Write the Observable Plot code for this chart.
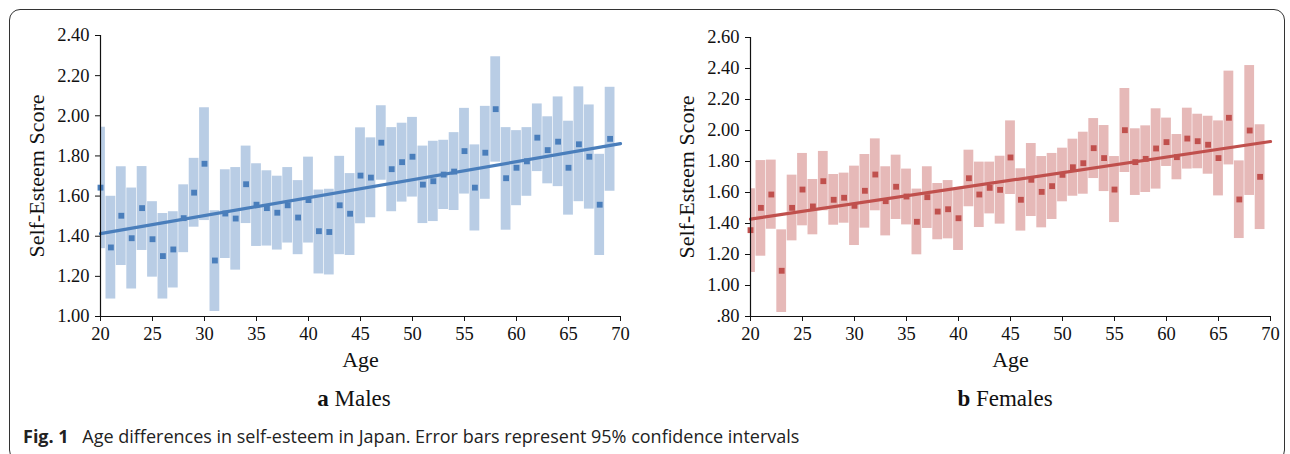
<!DOCTYPE html>
<html>
<head>
<meta charset="utf-8">
<script src="https://cdn.jsdelivr.net/npm/d3@7"></script>
<script src="https://cdn.jsdelivr.net/npm/@observablehq/plot@0.6"></script>
<style>
  html, body { margin: 0; padding: 0; background: #fff; }
  #fig { position: relative; width: 1290px; height: 454px; overflow: hidden; background: #fff; }
  #frame { position: absolute; left: 9px; top: 9px; width: 1276px; height: 452px; border: 1.2px solid #333; border-radius: 11px; box-sizing: border-box; }
  .panel { position: absolute; top: 0; }
  .ptitle { position: absolute; top: 386px; font-family: "Liberation Serif", serif; font-size: 23px; color: #111; white-space: nowrap; transform: translateX(-50%); }
  .ptitle b { font-weight: bold; }
  #caption { position: absolute; left: 23px; top: 424px; font-family: "Open Sans", sans-serif; font-size: 18px; color: #222; white-space: nowrap; }
  #caption b { font-weight: 700; margin-right: 9px; }
</style>
</head>
<body>
<div id="fig">
  <div id="frame"></div>
  <div id="left" class="panel" style="left:0px"></div>
  <div id="right" class="panel" style="left:650px"></div>
  <div class="ptitle" style="left:354px"><b>a</b> Males</div>
  <div class="ptitle" style="left:1005px"><b>b</b> Females</div>
  <div id="caption"><b>Fig. 1</b> Age differences in self-esteem in Japan. Error bars represent 95% confidence intervals</div>
</div>
<script>
const ages = [20,21,22,23,24,25,26,27,28,29,30,31,32,33,34,35,36,37,38,39,40,41,42,43,44,45,46,47,48,49,50,51,52,53,54,55,56,57,58,59,60,61,62,63,64,65,66,67,68,69];

const maleMean = [1.642,1.344,1.502,1.390,1.540,1.385,1.301,1.334,1.490,1.617,1.761,1.279,1.513,1.488,1.659,1.557,1.540,1.517,1.554,1.493,1.580,1.425,1.421,1.554,1.512,1.702,1.692,1.866,1.734,1.769,1.796,1.657,1.674,1.707,1.722,1.824,1.642,1.816,2.033,1.689,1.741,1.773,1.891,1.829,1.871,1.741,1.858,1.796,1.557,1.885];
const maleLow  = [1.338,1.087,1.254,1.137,1.329,1.196,1.087,1.142,1.318,1.445,1.478,1.025,1.289,1.231,1.463,1.349,1.351,1.331,1.366,1.308,1.366,1.212,1.207,1.308,1.304,1.462,1.492,1.679,1.522,1.570,1.595,1.463,1.473,1.533,1.528,1.610,1.426,1.584,1.769,1.430,1.552,1.599,1.722,1.661,1.647,1.505,1.572,1.535,1.304,1.624];
const maleHigh = [1.943,1.599,1.746,1.640,1.747,1.572,1.513,1.522,1.656,1.788,2.040,1.527,1.731,1.742,1.849,1.761,1.726,1.699,1.742,1.677,1.794,1.630,1.634,1.798,1.712,1.940,1.890,2.050,1.941,1.963,1.992,1.849,1.873,1.878,1.916,2.037,1.855,2.047,2.294,1.941,1.926,1.941,2.059,1.995,2.094,1.973,2.144,2.054,1.808,2.142];

const femaleMean = [1.357,1.501,1.587,1.095,1.501,1.619,1.510,1.673,1.553,1.566,1.514,1.611,1.716,1.544,1.637,1.574,1.411,1.570,1.477,1.492,1.434,1.692,1.587,1.630,1.617,1.826,1.553,1.682,1.604,1.641,1.714,1.763,1.789,1.886,1.822,1.619,2.002,1.796,1.817,1.884,1.925,1.828,1.948,1.931,1.908,1.822,2.082,1.555,2.000,1.701];
const femaleLow  = [1.084,1.189,1.363,0.826,1.288,1.385,1.327,1.482,1.389,1.402,1.258,1.370,1.482,1.320,1.426,1.391,1.198,1.368,1.295,1.301,1.226,1.508,1.374,1.462,1.396,1.587,1.351,1.445,1.372,1.426,1.540,1.576,1.589,1.690,1.606,1.406,1.729,1.581,1.600,1.622,1.768,1.682,1.751,1.753,1.718,1.578,1.778,1.303,1.581,1.361];
const femaleHigh = [1.624,1.806,1.809,1.359,1.712,1.852,1.684,1.865,1.716,1.725,1.770,1.845,1.946,1.766,1.841,1.751,1.622,1.766,1.658,1.677,1.619,1.873,1.796,1.796,1.834,2.062,1.753,1.916,1.832,1.852,1.886,1.944,1.989,2.077,2.032,1.832,2.271,2.011,2.030,2.140,2.080,1.974,2.144,2.105,2.092,2.062,2.383,1.804,2.419,2.037];

const trendAges = [20, 70];
const maleTrend = [1.413, 1.861];
const femaleTrend = [1.428, 1.929];

const xTicks = [20,25,30,35,40,45,50,55,60,65,70];
const maleYTicks = [1.0,1.2,1.4,1.6,1.8,2.0,2.2,2.4];
const femaleYTicks = [0.8,1.0,1.2,1.4,1.6,1.8,2.0,2.2,2.4,2.6];

function panel({mean, low, high, trend, yTicks, yDomain, tickFormat, barColor, color, marginTop}) {
  const rows = ages.map((a, i) => ({age: a, mean: mean[i], lo: low[i], hi: high[i]}));
  const trendRows = trendAges.map((a, i) => ({age: a, v: trend[i]}));
  const serif = "Liberation Serif, Times New Roman, serif";
  return Plot.plot({
    width: 640,
    height: 380,
    marginLeft: 100,
    marginRight: 20,
    marginTop: marginTop,
    marginBottom: 64,
    x: {domain: [20, 70]},
    y: {domain: yDomain},
    style: {fontFamily: serif, color: "#111", background: "transparent", overflow: "visible"},
    marks: [
      Plot.rectY(rows, {x1: d => d.age - 0.47, x2: d => d.age + 0.47, y1: "lo", y2: "hi", fill: barColor, clip: "frame"}),
      Plot.line(trendRows, {x: "age", y: "v", stroke: color, strokeWidth: 3.2}),
      Plot.dot(rows, {x: "age", y: "mean", symbol: "square", r: 3.3, fill: color, stroke: "none"}),
      Plot.ruleX([20], {stroke: "#111", strokeWidth: 1.2}),
      Plot.ruleY([yDomain[0]], {stroke: "#111", strokeWidth: 1.2}),
      Plot.axisY({ticks: yTicks, tickFormat, tickSize: 5, tickPadding: 6, fontSize: 18.5, label: null, stroke: "#111"}),
      Plot.axisX({ticks: xTicks, tickFormat: d => String(d), tickSize: 5, tickPadding: 5, fontSize: 18.5, label: null, stroke: "#111"}),
      Plot.text(["Self-Esteem Score"], {frameAnchor: "left", dx: -64, rotate: -90, textAnchor: "middle", lineAnchor: "middle", fontSize: 22, fontFamily: serif, fill: "#111"}),
      Plot.text(["Age"], {frameAnchor: "bottom", dy: 43, textAnchor: "middle", lineAnchor: "middle", fontSize: 22, fontFamily: serif, fill: "#111"})
    ]
  });
}

document.getElementById("left").appendChild(panel({
  mean: maleMean, low: maleLow, high: maleHigh, trend: maleTrend,
  yTicks: maleYTicks, yDomain: [1.0, 2.4],
  tickFormat: d => d.toFixed(2),
  barColor: "#b9cde5", color: "#4a7ebb", marginTop: 35
}));

document.getElementById("right").appendChild(panel({
  mean: femaleMean, low: femaleLow, high: femaleHigh, trend: femaleTrend,
  yTicks: femaleYTicks, yDomain: [0.8, 2.6],
  tickFormat: d => d < 1 ? d.toFixed(2).replace(/^0/, "") : d.toFixed(2),
  barColor: "#e6b9b8", color: "#c0504d", marginTop: 37
}));
</script>
</body>
</html>
